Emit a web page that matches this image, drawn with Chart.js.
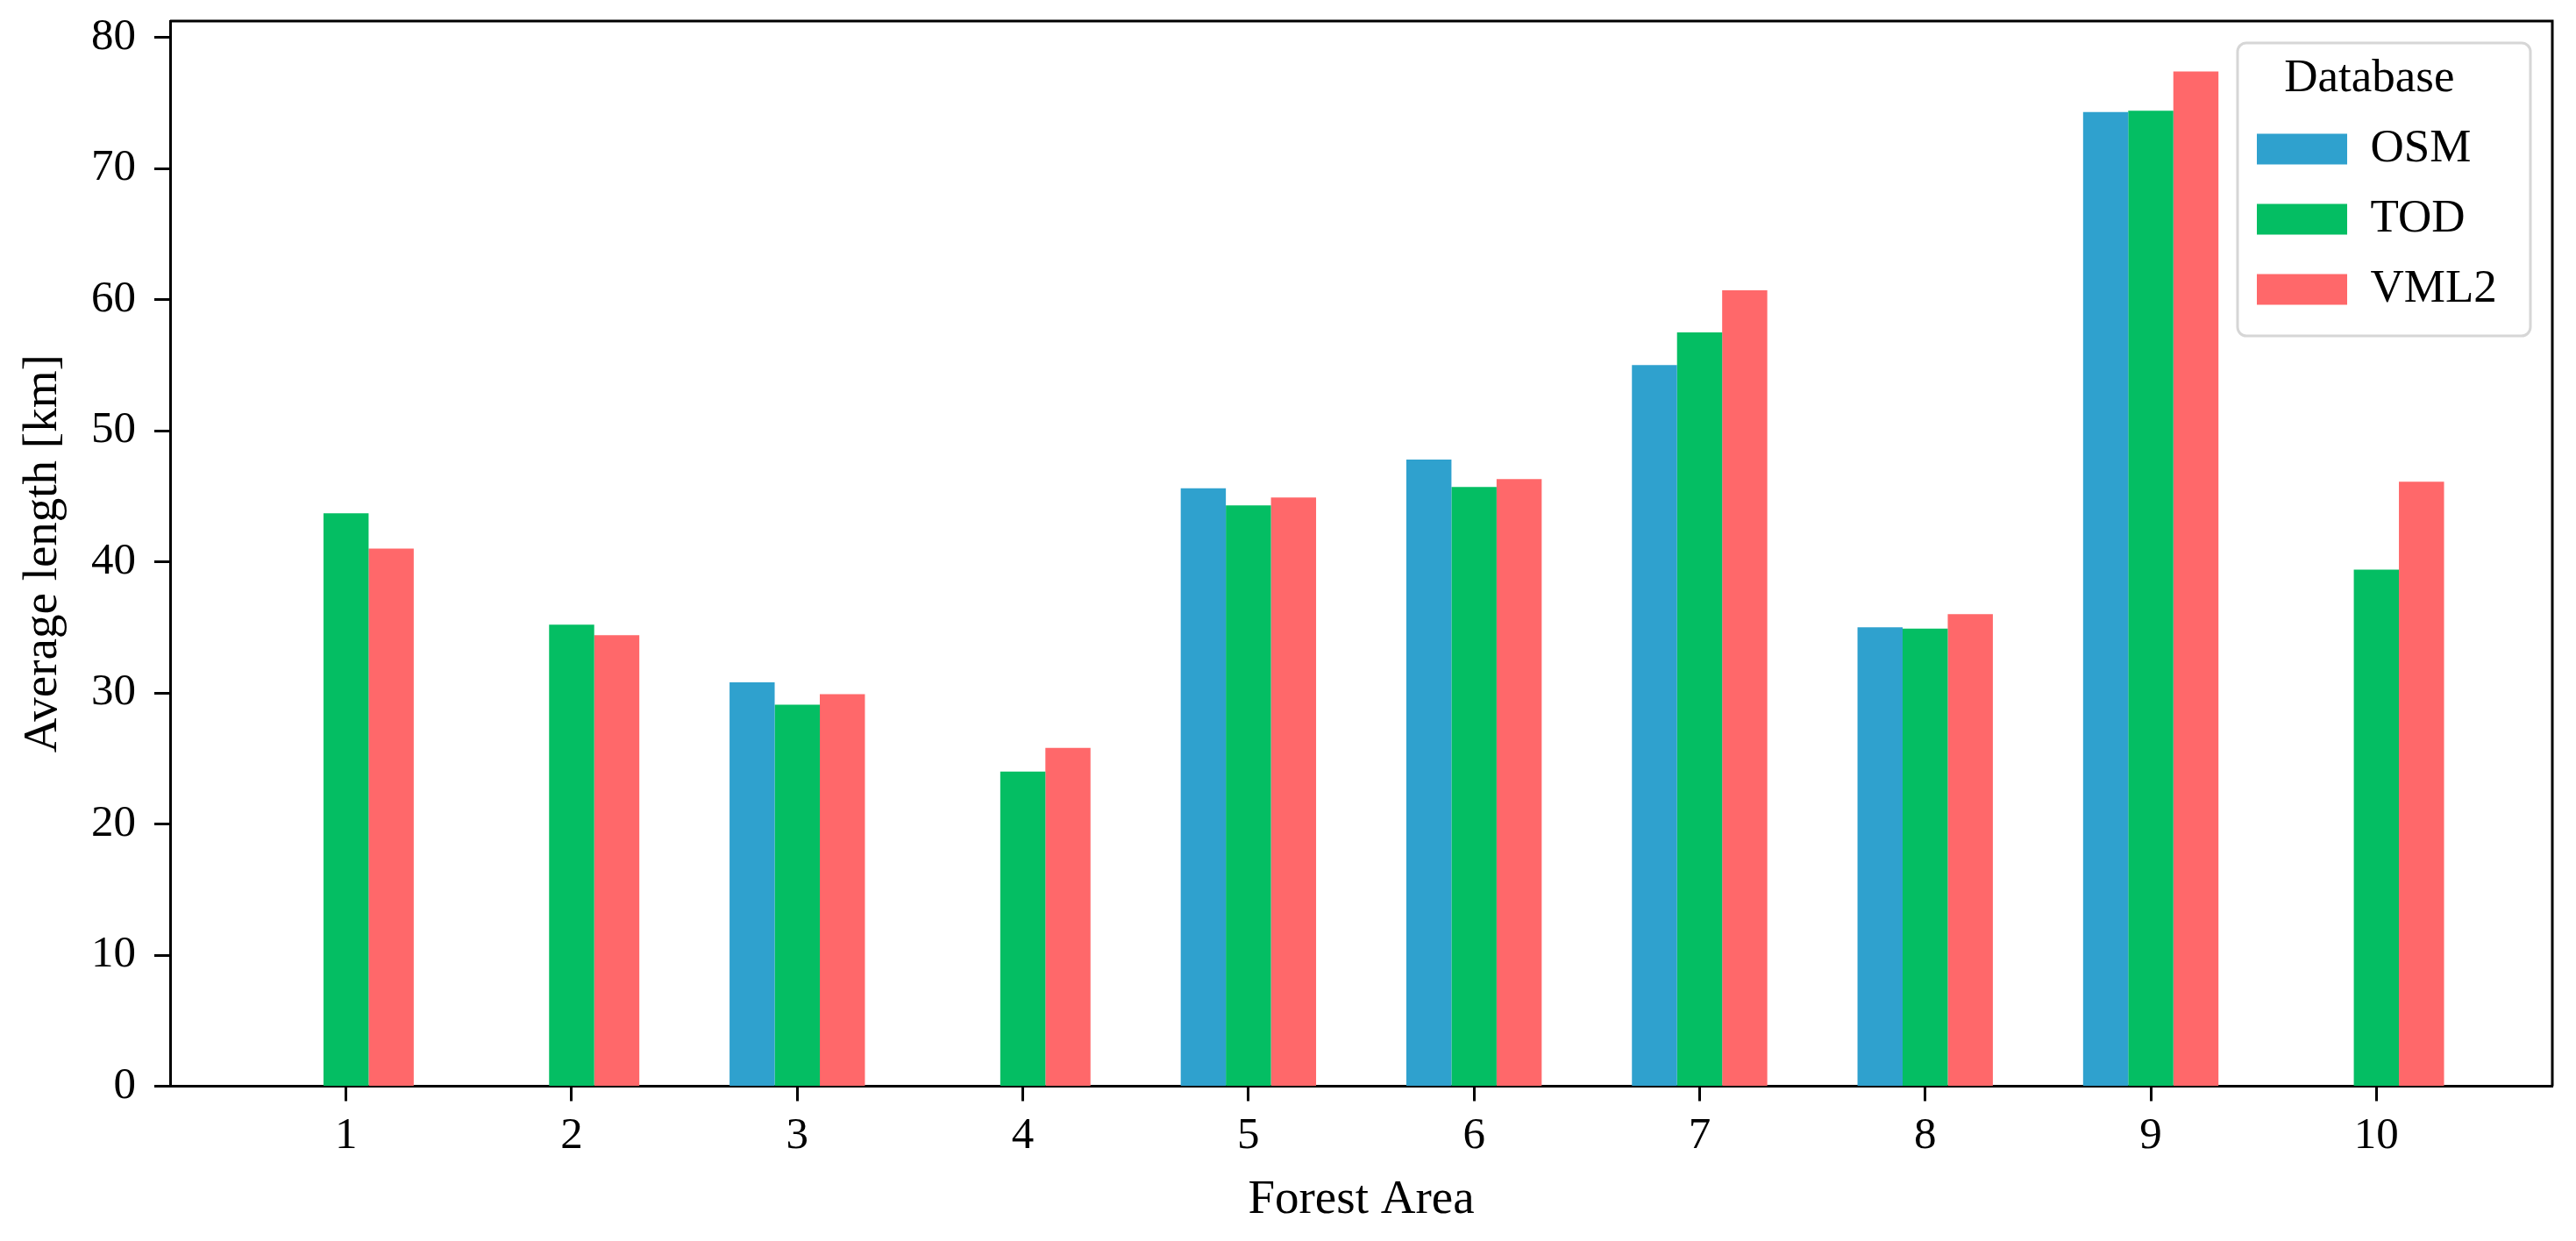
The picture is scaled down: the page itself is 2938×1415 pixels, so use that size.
<!DOCTYPE html>
<html>
<head>
<meta charset="utf-8">
<script src="https://cdn.jsdelivr.net/npm/chart.js@4.4.1/dist/chart.umd.min.js"></script>
<style>
html,body{margin:0;padding:0;background:#ffffff;}
#wrap{width:2938px;height:1415px;position:relative;}
</style>
</head>
<body>
<div id="wrap"><canvas id="c"></canvas></div>
<script>
// ---- data ----
const categories = ['1','2','3','4','5','6','7','8','9','10'];
const seriesNames = ['OSM','TOD','VML2'];
const osmValues  = [null, null, 30.8, null, 45.6, 47.8, 55.0, 35.0, 74.3, null];
const todValues  = [43.7, 35.2, 29.1, 24.0, 44.3, 45.7, 57.5, 34.9, 74.4, 39.4];
const vml2Values = [41.0, 34.4, 29.9, 25.8, 44.9, 46.3, 60.7, 36.0, 77.4, 46.1];
const yTickValues = [0, 10, 20, 30, 40, 50, 60, 70, 80];

// ---- styles ----
const colors = ['#2FA1CE', '#04BE63', '#FF686A'];
const FONT = "'Liberation Serif', 'Times New Roman', serif";

const toPoints = vals => categories.map((c, i) => ({x: i + 1, y: vals[i]}));
const seriesValues = [osmValues, todValues, vml2Values];

const datasets = seriesNames.map((name, k) => ({
  label: name,
  data: toPoints(seriesValues[k]),
  backgroundColor: colors[k],
  borderWidth: 0,
  categoryPercentage: 0.6,
  barPercentage: 1.0
}));

const framePlugin = {
  id: 'frameAndLegend',
  afterLayout(chart) {
    const lg = chart.legend;
    if (!lg) return;
    const w = lg.width;
    lg.left = 2547;
    lg.right = lg.left + w;
    lg.top = 63.5;
    lg.bottom = lg.top + 330;
  },
  beforeDraw(chart) {
    const ctx = chart.ctx;
    // legend frame
    const x = 2552, y = 49, w = 334, h = 334, r = 10;
    ctx.save();
    ctx.beginPath();
    ctx.moveTo(x + r, y);
    ctx.lineTo(x + w - r, y);
    ctx.arcTo(x + w, y, x + w, y + r, r);
    ctx.lineTo(x + w, y + h - r);
    ctx.arcTo(x + w, y + h, x + w - r, y + h, r);
    ctx.lineTo(x + r, y + h);
    ctx.arcTo(x, y + h, x, y + h - r, r);
    ctx.lineTo(x, y + r);
    ctx.arcTo(x, y, x + r, y, r);
    ctx.closePath();
    ctx.fillStyle = 'rgba(255,255,255,0.8)';
    ctx.fill();
    ctx.lineWidth = 3;
    ctx.strokeStyle = '#d6d6d6';
    ctx.stroke();
    ctx.restore();
  },
  afterDraw(chart) {
    const a = chart.chartArea;
    const ctx = chart.ctx;
    ctx.save();
    ctx.strokeStyle = '#000';
    ctx.lineWidth = 3;
    ctx.beginPath();
    ctx.moveTo(a.left, a.top);
    ctx.lineTo(a.right, a.top);
    ctx.lineTo(a.right, a.bottom);
    ctx.stroke();
    ctx.restore();
  }
};

new Chart(document.getElementById('c'), {
  type: 'bar',
  data: { datasets },
  plugins: [framePlugin],
  options: {
    responsive: true,
    maintainAspectRatio: false,
    animation: false,
    devicePixelRatio: 1,
    layout: { padding: { left: 0, right: 27, top: 24, bottom: 0 } },
    plugins: {
      tooltip: { enabled: false },
      legend: {
        position: 'chartArea',
        align: 'start',
        labels: {
          boxWidth: 103,
          boxHeight: 35,
          padding: 27,
          color: '#000',
          font: { family: FONT, size: 53 }
        },
        title: {
          display: true,
          text: 'Database',
          color: '#000',
          position: 'center',
          padding: { top: 0, bottom: 0 },
          font: { family: FONT, size: 53, lineHeight: 1.0 }
        }
      }
    },
    scales: {
      x: {
        type: 'linear',
        min: 0.22,
        max: 10.78,
        offset: false,
        z: 1,
        afterBuildTicks(scale) {
          scale.ticks = categories.map((c, i) => ({ value: i + 1 }));
        },
        afterFit(scale) {
          scale.height = 176.5;
          scale.paddingLeft = 0; scale.paddingRight = 0;
        },
        ticks: {
          autoSkip: false,
          maxRotation: 0,
          includeBounds: false,
          padding: 10,
          color: '#000',
          font: { family: FONT, size: 51 },
          callback: (v) => categories[Math.round(v) - 1] ?? ''
        },
        grid: {
          display: true,
          offset: false,
          drawOnChartArea: false,
          drawTicks: true,
          tickLength: 17,
          tickWidth: 3,
          tickColor: '#000'
        },
        border: { display: true, color: '#000', width: 3 },
        title: {
          display: true,
          text: 'Forest Area',
          color: '#000',
          padding: { top: 0, bottom: 13 },
          font: { family: FONT, size: 55 }
        }
      },
      y: {
        type: 'linear',
        min: 0,
        max: 81.24,
        z: 1,
        afterBuildTicks(scale) {
          scale.ticks = yTickValues.map(v => ({ value: v }));
        },
        afterFit(scale) {
          scale.width = 194;
          scale.paddingTop = 0; scale.paddingBottom = 0;
        },
        ticks: {
          includeBounds: false,
          padding: 21,
          color: '#000',
          font: { family: FONT, size: 51 }
        },
        grid: {
          display: true,
          drawOnChartArea: false,
          drawTicks: true,
          tickLength: 18,
          tickWidth: 3,
          tickColor: '#000'
        },
        border: { display: true, color: '#000', width: 3 },
        title: {
          display: true,
          text: 'Average length [km]',
          color: '#000',
          padding: { top: 17, bottom: 0 },
          font: { family: FONT, size: 55 }
        }
      }
    }
  }
});
</script>
</body>
</html>
